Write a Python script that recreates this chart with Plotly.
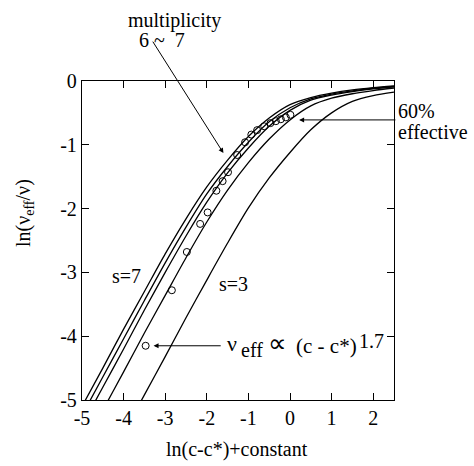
import plotly.graph_objects as go

# ln(c - c*) + constant grid shared by the theoretical curves
x_grid = [-5.0, -4.5, -4.0, -3.5, -3.0, -2.5, -2.0, -1.5, -1.0, -0.5,
          0.0, 0.5, 1.0, 1.5, 2.0, 2.5]

# ln(nu_eff / nu) for junction multiplicity s = 7 ... 3
s7 = [-5.10, -4.50, -3.89, -3.30, -2.71, -2.16, -1.66, -1.24, -0.87, -0.58,
      -0.37, -0.26, -0.19, -0.14, -0.105, -0.078]
s6 = [-5.24, -4.64, -4.04, -3.44, -2.85, -2.29, -1.77, -1.34, -0.96, -0.64,
      -0.42, -0.28, -0.205, -0.154, -0.114, -0.084]
s5 = [-5.40, -4.80, -4.20, -3.59, -3.00, -2.43, -1.90, -1.44, -1.05, -0.71,
      -0.46, -0.30, -0.22, -0.166, -0.123, -0.090]
s4 = [-5.76, -5.16, -4.56, -3.95, -3.36, -2.77, -2.21, -1.71, -1.28, -0.91,
      -0.61, -0.39, -0.27, -0.20, -0.15, -0.11]
s3 = [None, None, -5.52, -4.92, -4.32, -3.71, -3.12, -2.54, -1.99, -1.52,
      -1.12, -0.765, -0.50, -0.32, -0.23, -0.175]

curves = {"s=7": s7, "s=6": s6, "s=5": s5, "s=4": s4, "s=3": s3}

# measured points
obs_x = [-3.47, -2.84, -2.48, -2.16, -1.98, -1.77, -1.62, -1.49, -1.27,
         -1.08, -0.93, -0.79, -0.62, -0.47, -0.34, -0.22, -0.10, 0.01]
obs_y = [-4.15, -3.28, -2.68, -2.24, -2.06, -1.72, -1.57, -1.43, -1.16,
         -0.96, -0.84, -0.77, -0.71, -0.66, -0.63, -0.60, -0.57, -0.53]

x_ticks = [-5, -4, -3, -2, -1, 0, 1, 2]
y_ticks = [0, -1, -2, -3, -4, -5]

FONT = "Liberation Serif"

fig = go.Figure()
for name, ys in curves.items():
    fig.add_trace(go.Scatter(
        x=x_grid, y=ys, mode="lines", name=name,
        line=dict(color="black", width=1.3, shape="spline", smoothing=0.8),
        showlegend=False, hoverinfo="skip"))

fig.add_trace(go.Scatter(
    x=obs_x, y=obs_y, mode="markers", name="data",
    marker=dict(symbol="circle-open", size=7, color="black",
                line=dict(width=1, color="black")),
    showlegend=False))

axis_common = dict(
    showgrid=False, zeroline=False, showline=True, linecolor="black",
    linewidth=1.3, mirror="ticks", ticks="inside", ticklen=7, tickwidth=1.2,
    tickcolor="black", tickfont=dict(family=FONT, size=20, color="black"))

fig.update_xaxes(range=[-5, 2.5], tickvals=x_ticks,
                 ticktext=[str(v) for v in x_ticks], **axis_common)
fig.update_yaxes(range=[-5, 0], tickvals=y_ticks,
                 ticktext=[str(v) for v in y_ticks], **axis_common)


def font(size):
    return dict(family=FONT, size=size, color="black")


txt = font(20)
arrow = dict(showarrow=True, arrowhead=2, arrowsize=1, arrowwidth=1,
             arrowcolor="black", text="", axref="x", ayref="y")
ann = [
    # axis titles
    dict(text="ln(c-c*)+constant", xref="paper", yref="paper",
         x=0.497, y=-0.154, showarrow=False, font=txt,
         xanchor="center", yanchor="middle"),
    dict(text="ln(\u03bd<sub>eff</sub>/\u03bd)", xref="paper", yref="paper",
         x=-0.186, y=0.586, showarrow=False, font=txt, textangle=-90,
         xanchor="center", yanchor="middle"),
    # labels above and to the right of the frame
    dict(text="multiplicity", xref="paper", yref="paper", x=0.298, y=1.191,
         showarrow=False, font=txt, xanchor="center", yanchor="middle"),
    dict(text="6\u00a0~\u00a0\u00a07", xref="paper", yref="paper",
         x=0.256, y=1.129, showarrow=False, font=txt,
         xanchor="center", yanchor="middle"),
    dict(text="60%", xref="paper", yref="paper", x=1.006, y=0.906,
         showarrow=False, font=txt, xanchor="left", yanchor="middle"),
    dict(text="effective", xref="paper", yref="paper", x=1.006, y=0.840,
         showarrow=False, font=txt, xanchor="left", yanchor="middle"),
    dict(x=-1.60, y=-1.13, ax=-3.32, ay=0.64, **arrow),
    dict(x=0.22, y=-0.61, ax=2.57, ay=-0.61, **arrow),
    # labels inside the frame
    dict(text="s=7", x=-3.92, y=-3.06, showarrow=False, font=txt),
    dict(text="s=3", x=-1.36, y=-3.18, showarrow=False, font=txt),
    # power-law label, built from pieces
    dict(text="\u03bd", x=-1.56, y=-4.11, showarrow=False, font=font(22),
         xanchor="left", yanchor="middle"),
    dict(text="eff", x=-1.22, y=-4.22, showarrow=False, font=font(20),
         xanchor="left", yanchor="middle"),
    dict(text="\u221d", x=-0.29, y=-4.12, showarrow=False, font=font(26),
         xanchor="center", yanchor="middle"),
    dict(text="(c - c*)", x=0.10, y=-4.155, showarrow=False, font=font(21),
         xanchor="left", yanchor="middle"),
    dict(text="1.7", x=1.60, y=-4.08, showarrow=False, font=txt,
         xanchor="left", yanchor="middle"),
    dict(x=-3.28, y=-4.15, ax=-1.63, ay=-4.15, **arrow),
]
fig.update_layout(
    width=474, height=466,
    margin=dict(l=82, r=80, t=81, b=66),
    paper_bgcolor="white", plot_bgcolor="white",
    annotations=ann, showlegend=False,
)

fig.write_html("out.html")
